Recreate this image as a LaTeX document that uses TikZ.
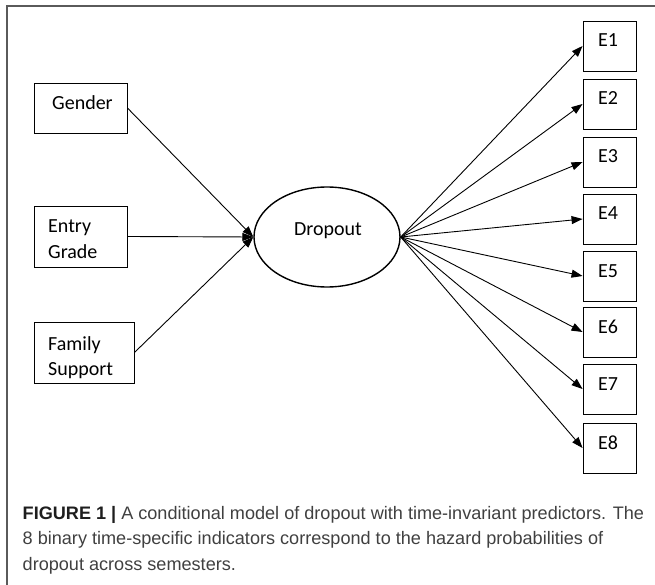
\documentclass[tikz,border=0pt]{standalone}
\usepackage{fontspec}
\setmainfont{Carlito}
\newfontfamily\capfont{Liberation Sans}
\usetikzlibrary{arrows.meta,shapes.geometric}
\definecolor{framegray}{HTML}{5A5A5A}
\definecolor{capgray}{HTML}{404040}
\definecolor{capdark}{HTML}{1E1E1E}
\begin{document}
\begin{tikzpicture}[x=1pt,y=-1pt,
  box/.style={draw=black, line width=0.9pt, inner sep=0pt},
  oval/.style={draw=black, ellipse, line width=1.4pt, inner sep=0pt, minimum width=146pt, minimum height=100pt},
  lbl/.style={anchor=base west, inner sep=0pt, font=\fontsize{20}{25}\selectfont, align=left},
  arr/.style={line width=0.9pt, -{Triangle[length=11pt,width=8pt]}},
  captext/.style={anchor=base west, inner sep=0pt, font=\capfont\fontsize{18.1}{22}\selectfont, text=capgray}
]
\useasboundingbox (0,0) rectangle (655,585);
\draw[framegray, line width=1.3pt] (7,585) -- (7,6) -- (655,6);

% predictor boxes
\node[box, minimum width=93pt, minimum height=50pt] (gender) at (80.5,108) {};
\node[box, minimum width=93pt, minimum height=61pt] (entry) at (80.5,236.5) {};
\node[box, minimum width=100pt, minimum height=61pt] (family) at (84,352.5) {};
\node[lbl] (tgender) at (52,110) {Gender};
\node[lbl] (tentry) at (48,258) {Entry\\Grade};
\node[lbl] (tfamily) at (48,375) {Family\\Support};

% latent
\node[oval] (drop) at (327,237) {};
\node[lbl, anchor=base] (tdrop) at (328,235) {Dropout};

% indicator boxes
\foreach \i/\t in {1/21,2/79,3/137,4/194,5/251,6/307,7/364,8/423}{
  \node[box, minimum width=53pt, minimum height=50pt] (e\i) at (609.5,\t+25) {};
  \node[lbl] (te\i) at (598,\t+26) {E\i};
  \draw[arr] (drop.east) -- (e\i.west);
}

% predictor arrows
\draw[arr] (gender.east) -- (drop.west);
\draw[arr] (entry.east) -- (drop.west);
\draw[arr] (family.east) -- (drop.west);

% caption
\node[captext] (cap1) at (22.5,519) {\textcolor{capdark}{\bfseries FIGURE 1 |} A conditional model of dropout with time-invariant predictors. The};
\node[captext] (cap2) at (22.5,544.5) {8 binary time-specific indicators correspond to the hazard probabilities of};
\node[captext] (cap3) at (22.5,570) {dropout across semesters.};
\end{tikzpicture}
\end{document}
